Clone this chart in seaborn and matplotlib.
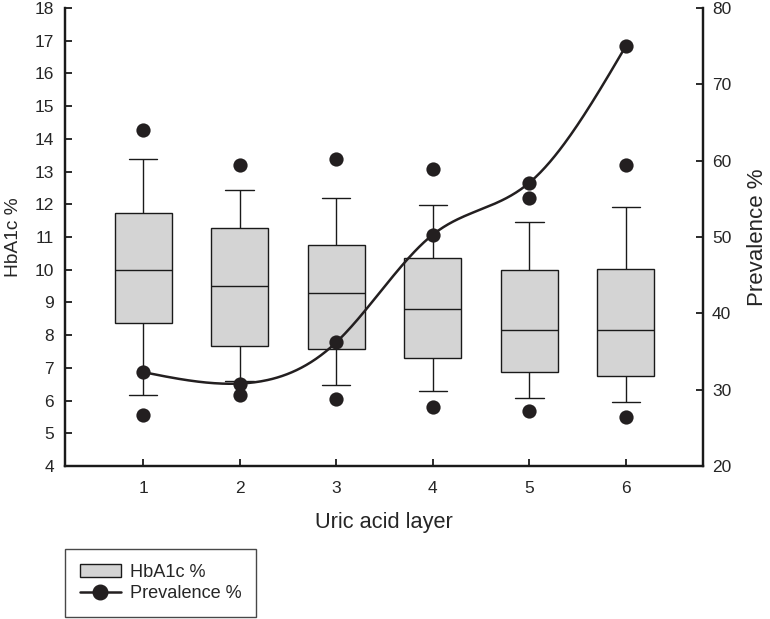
import numpy as np
import pandas as pd
import seaborn as sns
import matplotlib.pyplot as plt
from matplotlib.patches import Patch
from matplotlib.lines import Line2D

# uric acid layers
layers = [1, 2, 3, 4, 5, 6]

# HbA1c box statistics
whisk_lo = [6.17, 6.59, 6.47, 6.29, 6.08, 5.97]
q1 = [8.38, 7.67, 7.59, 7.29, 6.88, 6.75]
median = [9.99, 9.50, 9.28, 8.79, 8.17, 8.17]
q3 = [11.74, 11.28, 10.77, 10.37, 9.99, 10.01]
whisk_hi = [13.38, 12.43, 12.18, 11.98, 11.46, 11.92]
# outer dots (5th / 95th percentile)
p5 = [5.55, 6.17, 6.04, 5.79, 5.69, 5.50]
p95 = [14.27, 13.20, 13.38, 13.08, 12.19, 13.20]

# prevalence % (right axis)
prevalence = [32.3, 30.8, 36.2, 50.3, 57.1, 75.0]

box_color = "#d4d4d4"
ink = "#231f20"

sns.set_style("ticks")
plt.rcParams["font.family"] = ["Liberation Sans", "DejaVu Sans"]
plt.rcParams["xtick.direction"] = "in"
plt.rcParams["ytick.direction"] = "in"

# five values per layer -> seaborn computes exactly these quartiles
rows = []
for i, lay in enumerate(layers):
    for v in [whisk_lo[i], q1[i], median[i], q3[i], whisk_hi[i]]:
        rows.append({"layer": lay, "hba1c": v})
df = pd.DataFrame(rows)


def natural_spline(x, y, n=300):
    x = np.asarray(x, float)
    y = np.asarray(y, float)
    k = len(x)
    h = np.diff(x)
    A = np.zeros((k, k))
    b = np.zeros(k)
    A[0, 0] = A[-1, -1] = 1
    for i in range(1, k - 1):
        A[i, i - 1] = h[i - 1]
        A[i, i] = 2 * (h[i - 1] + h[i])
        A[i, i + 1] = h[i]
        b[i] = 6 * ((y[i + 1] - y[i]) / h[i] - (y[i] - y[i - 1]) / h[i - 1])
    M = np.linalg.solve(A, b)
    xs = np.linspace(x[0], x[-1], n)
    idx = np.clip(np.searchsorted(x, xs) - 1, 0, k - 2)
    x0, x1 = x[idx], x[idx + 1]
    hh = x1 - x0
    ys = (M[idx] * (x1 - xs) ** 3 / (6 * hh) + M[idx + 1] * (xs - x0) ** 3 / (6 * hh)
          + (y[idx] / hh - M[idx] * hh / 6) * (x1 - xs)
          + (y[idx + 1] / hh - M[idx + 1] * hh / 6) * (xs - x0))
    return xs, ys


fig = plt.figure(figsize=(7.7, 6.19), dpi=100)
ax = fig.add_axes([65 / 770, 1 - 466 / 619, (703 - 65) / 770, (466 - 8) / 619])

sns.boxplot(data=df, x="layer", y="hba1c", native_scale=True, width=0.59,
            whis=(0, 100), showfliers=False, color=box_color, saturation=1,
            linecolor="#1a1a1a", linewidth=1.0, ax=ax)
sns.scatterplot(x=layers + layers, y=p5 + p95, color=ink, s=105,
                edgecolor=ink, linewidth=0, zorder=5, ax=ax)

ax.set_xlim(0.19, 6.8)
ax.set_ylim(4, 18)
ax.set_xticks(layers)
ax.set_xticklabels([str(l) for l in layers])
ax.set_yticks(range(4, 19))
ax.set_xlabel("Uric acid layer", fontsize=15.7, labelpad=12)
ax.set_ylabel("HbA1c %", fontsize=13.8, labelpad=9)
ax.tick_params(labelsize=12.5, length=5, width=1.3, color="#1a1a1a")
ax.tick_params(axis="x", pad=10.5)
ax.tick_params(axis="y", pad=8)

ax2 = ax.twinx()
xs, ys = natural_spline(layers, prevalence)
sns.lineplot(x=xs, y=ys, color=ink, linewidth=1.8, ax=ax2)
sns.scatterplot(x=layers, y=prevalence, color=ink, s=105, linewidth=0,
                zorder=6, ax=ax2)
ax2.set_ylim(20, 80)
ax2.set_yticks(range(20, 81, 10))
ax2.set_ylabel("Prevalence %", fontsize=16, labelpad=11)
ax2.tick_params(labelsize=12.5, length=5, width=1.3, color="#1a1a1a", pad=6.5)

for a in (ax, ax2):
    a.spines["top"].set_visible(False)
    for s in ("left", "right", "bottom"):
        a.spines[s].set_linewidth(1.6)
        a.spines[s].set_color("#1a1a1a")

handles = [Patch(facecolor=box_color, edgecolor="#1a1a1a", linewidth=1.0),
           Line2D([0], [0], color=ink, linewidth=1.8, marker="o",
                  markersize=10.5, markerfacecolor=ink, markeredgecolor=ink)]
leg = fig.legend(handles, ["HbA1c %", "Prevalence %"], loc="lower left",
                 bbox_to_anchor=(65 / 770, 2 / 619), frameon=True,
                 fancybox=False, edgecolor="#1a1a1a", fontsize=13.1,
                 handlelength=2.3, handleheight=0.7, borderpad=0.8,
                 labelspacing=0.25, handletextpad=0.45, borderaxespad=0)
leg.get_frame().set_linewidth(1.0)

fig.savefig("out.png", dpi=100)
